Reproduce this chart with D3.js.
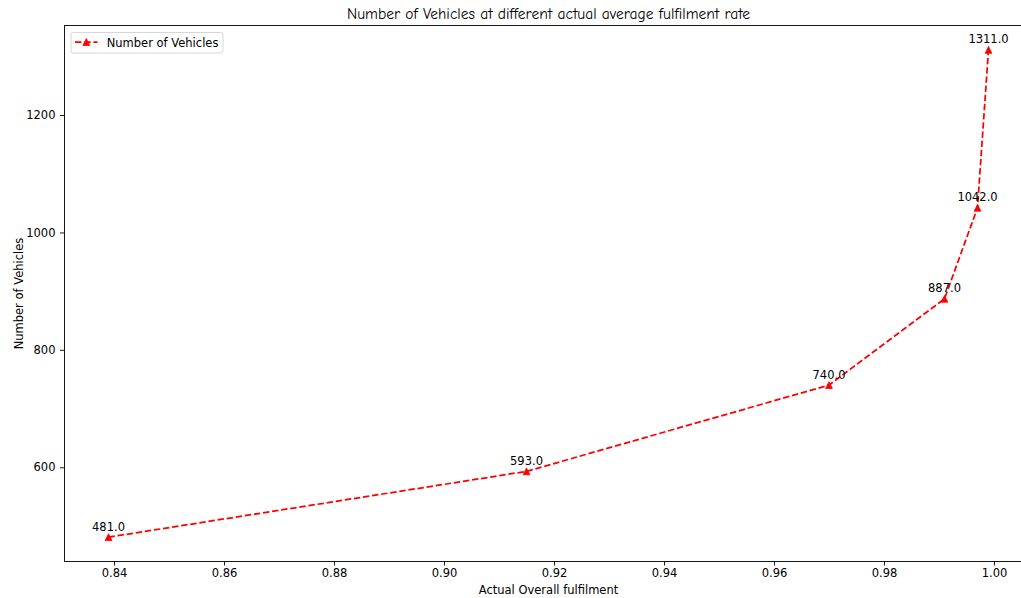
<!DOCTYPE html>
<html>
<head>
<meta charset="utf-8">
<script src="https://cdn.jsdelivr.net/npm/d3@7"></script>
<style>
  body { margin: 0; background: #fff; }
  svg text { font-family: "DejaVu Sans", sans-serif; fill: #000; }
</style>
</head>
<body>
<div class="svg-container"></div>
<script>
'use strict';

// values
var fulfilment = [0.839, 0.915, 0.970, 0.991, 0.997, 0.999];
var vehicles = [481, 593, 740, 887, 1042, 1311];
var xTicks = [0.84, 0.86, 0.88, 0.90, 0.92, 0.94, 0.96, 0.98, 1.00];
var yTicks = [600, 800, 1000, 1200];
var seriesName = "Number of Vehicles";
var titleText = "Number of Vehicles at different actual average fulfilment rate";
var xLabel = "Actual Overall fulfilment";
var yLabel = "Number of Vehicles";

var svgWidth = 1021;
var svgHeight = 598;
var plot = {left: 64.5, right: 1032.5, top: 25.5, bottom: 561.5};
var red = "#ff0000";
var fontSize = "11.5px";
var triPath = "M0,-3.4L3.4,3.4L-3.4,3.4Z";

var points = fulfilment.map(function(f, i) { return {x: f, y: vehicles[i]}; });

// matplotlib style 5% margins
function padded(arr) {
  var lo = d3.min(arr), hi = d3.max(arr), m = (hi - lo) * 0.05;
  return [lo - m, hi + m];
}

var x = d3.scaleLinear().domain(padded(fulfilment)).range([plot.left, plot.right]);
var y = d3.scaleLinear().domain(padded(vehicles)).range([plot.bottom, plot.top]);

var svg = d3.select(".svg-container").append("svg")
  .attr("width", svgWidth)
  .attr("height", svgHeight)
  .attr("id", "chartsvg");

svg.append("rect").attr("width", svgWidth).attr("height", svgHeight).attr("fill", "#fff");

// axes
var xAxis = d3.axisBottom(x).tickValues(xTicks).tickSize(4).tickPadding(3.5)
  .tickFormat(d3.format(".2f"));
var yAxis = d3.axisLeft(y).tickValues(yTicks).tickSize(4.5).tickPadding(4.5)
  .tickFormat(d3.format("d"));

var gx = svg.append("g").attr("transform", "translate(0," + plot.bottom + ")").call(xAxis);
var gy = svg.append("g").attr("transform", "translate(" + plot.left + ",0)").call(yAxis);

[gx, gy].forEach(function(g) {
  g.select(".domain").remove();
  g.selectAll(".tick line").attr("stroke", "#000").attr("stroke-width", 0.9);
  g.selectAll(".tick text").attr("font-size", fontSize).attr("fill", "#000")
    .style("font-family", "'DejaVu Sans', sans-serif");
});

// spines (right one falls outside the picture)
svg.append("rect")
  .attr("x", plot.left).attr("y", plot.top)
  .attr("width", plot.right - plot.left).attr("height", plot.bottom - plot.top)
  .attr("fill", "none").attr("stroke", "#000").attr("stroke-width", 0.9);

// the series
var line = d3.line()
  .x(function(d) { return x(d.x); })
  .y(function(d) { return y(d.y); });

svg.append("path")
  .datum(points)
  .attr("d", line)
  .attr("fill", "none")
  .attr("stroke", red)
  .attr("stroke-width", 1.75)
  .attr("stroke-dasharray", "6.4,2.8");

svg.append("g").selectAll("path").data(points).enter().append("path")
  .attr("d", triPath)
  .attr("transform", function(d) { return "translate(" + x(d.x) + "," + y(d.y) + ")"; })
  .attr("fill", red)
  .attr("stroke", red)
  .attr("stroke-width", 0.8);

// value labels
svg.append("g").selectAll("text").data(points).enter().append("text")
  .attr("x", function(d) { return x(d.x); })
  .attr("y", function(d) { return y(d.y) - 6.5; })
  .attr("text-anchor", "middle")
  .attr("font-size", fontSize)
  .text(function(d) { return d.y.toFixed(1); });

// title and axis labels
svg.append("text")
  .attr("x", (plot.left + plot.right) / 2)
  .attr("y", 19)
  .attr("text-anchor", "middle")
  .attr("font-size", "15.5px")
  .style("font-family", "'Comic Sans MS', 'Comic Neue', cursive, 'DejaVu Sans'")
  .text(titleText);

svg.append("text")
  .attr("x", (plot.left + plot.right) / 2)
  .attr("y", 594)
  .attr("text-anchor", "middle")
  .attr("font-size", fontSize)
  .text(xLabel);

svg.append("text")
  .attr("transform", "translate(22.5," + (plot.top + plot.bottom) / 2 + ") rotate(-90)")
  .attr("text-anchor", "middle")
  .attr("font-size", fontSize)
  .text(yLabel);

// legend
var legend = svg.append("g").attr("transform", "translate(71,32.5)");
legend.append("rect")
  .attr("width", 152).attr("height", 20.5).attr("rx", 2.5)
  .attr("fill", "#fff").attr("fill-opacity", 0.8)
  .attr("stroke", "#d6d6d6").attr("stroke-width", 1);
legend.append("line")
  .attr("x1", 4).attr("x2", 26.5).attr("y1", 9.5).attr("y2", 9.5)
  .attr("stroke", red).attr("stroke-width", 1.75)
  .attr("stroke-dasharray", "6.4,2.8");
legend.append("path")
  .attr("d", triPath)
  .attr("transform", "translate(15.3,9.5)")
  .attr("fill", red).attr("stroke", red).attr("stroke-width", 0.8);
legend.append("text")
  .attr("x", 35.7).attr("y", 14)
  .attr("font-size", fontSize)
  .text(seriesName);
</script>
</body>
</html>
